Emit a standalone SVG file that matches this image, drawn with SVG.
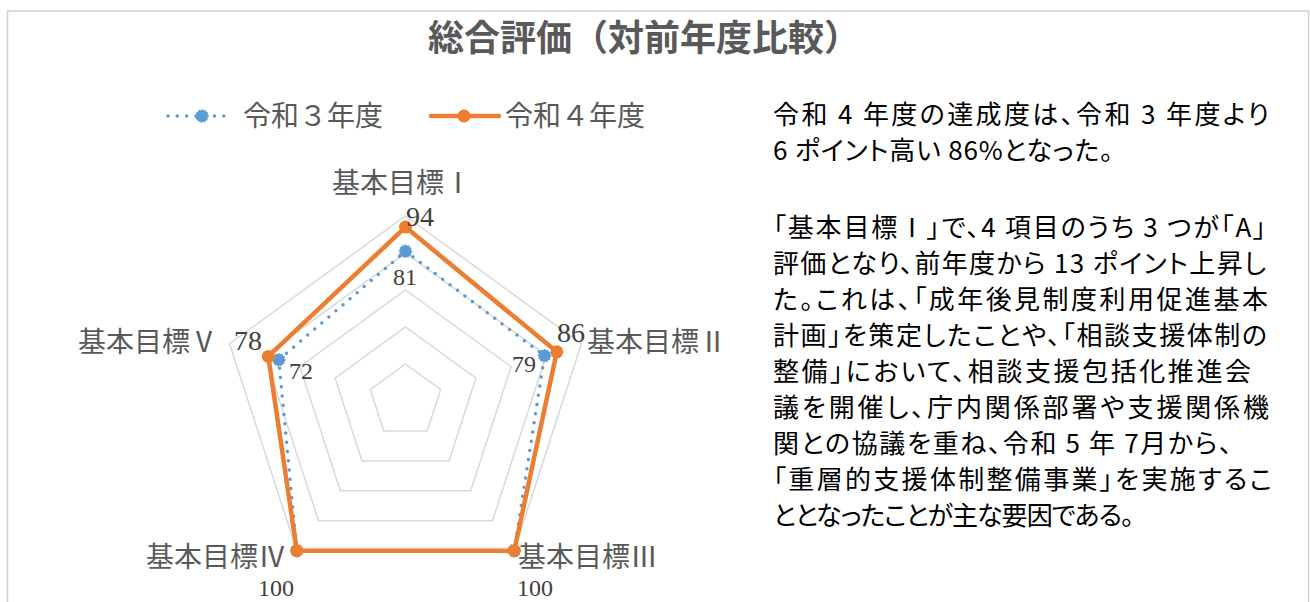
<svg xmlns="http://www.w3.org/2000/svg" width="1310" height="602" viewBox="0 0 1310 602">
  <style>
    .title{font-family:"Noto Sans CJK JP","Noto Sans",sans-serif;font-size:36px;font-weight:bold;fill:#595959}
    .leg{font-family:"Noto Sans CJK JP","Noto Sans",sans-serif;font-size:28px;fill:#595959}
    .axis{font-family:"Noto Sans CJK JP","Noto Sans",sans-serif;font-size:28px;fill:#595959}
    .dl{font-family:"Liberation Serif","DejaVu Serif",serif;font-size:28px;fill:#404040}
    .dlb{font-family:"Liberation Serif","DejaVu Serif",serif;font-size:24px;fill:#404040}
    .dls{font-family:"Liberation Serif","DejaVu Serif",serif;font-size:24px;fill:#404040}
    .body{font-family:"Noto Sans CJK JP","Noto Sans",sans-serif;font-size:26px;fill:#000;font-feature-settings:"palt"}
    .grid{fill:none;stroke:#d9d9d9;stroke-width:1.5}
    .r3{fill:none;stroke:#5b9bd5;stroke-width:3.5;stroke-linecap:round;stroke-dasharray:0 9.3}
    .r4{fill:none;stroke:#ed7d31;stroke-width:4.5;stroke-linejoin:round;stroke-linecap:round}
    .m3{fill:#5b9bd5;stroke:#5b9bd5;stroke-width:1.5;stroke-dasharray:1.5 1.5}
    .m4{fill:#ed7d31}
  </style>
  <rect x="7.5" y="11" width="1301" height="620" fill="#ffffff" stroke="#d0d0d0" stroke-width="1.5"/>
  <g id="title">
    <text class="title" x="644" y="51" text-anchor="middle">総合評価（対前年度比較）</text>
  </g>
  <g id="legend">
    <line class="r3" x1="168" y1="116" x2="232" y2="116"/>
    <circle class="m3" cx="202" cy="116" r="6"/>
    <text class="leg" x="243" y="126">令和３年度</text>
    <line class="r4" x1="431" y1="116" x2="499" y2="116"/>
    <circle class="m4" cx="464" cy="116" r="6.5"/>
    <text class="leg" x="505" y="126">令和４年度</text>
  </g>
  <g id="grid">
    <polygon class="grid" points="405.5,216 581.4,343.8 514.2,550.7 296.8,550.7 229.6,343.8"/>
    <polygon class="grid" points="405.5,253 546.3,355.3 492.5,520.7 318.5,520.7 264.7,355.3"/>
    <polygon class="grid" points="405.5,290 511.1,366.7 470.7,490.8 340.3,490.8 299.9,366.7"/>
    <polygon class="grid" points="405.5,327 475.9,378.1 449.0,460.9 362.0,460.9 335.1,378.1"/>
    <polygon class="grid" points="405.5,364 440.7,389.6 427.2,430.9 383.8,430.9 370.3,389.6"/>
  </g>
  <g id="series-r3">
    <polygon class="r3" points="405.5,251.2 544.5,355.8 514.2,550.7 296.8,550.7 278.8,359.8"/>
    <circle class="m3" cx="405.5" cy="251.2" r="6"/>
    <circle class="m3" cx="544.5" cy="355.8" r="6"/>
    <circle class="m3" cx="514.2" cy="550.7" r="6"/>
    <circle class="m3" cx="296.8" cy="550.7" r="6"/>
    <circle class="m3" cx="278.8" cy="359.8" r="6"/>
  </g>
  <g id="series-r4">
    <polygon class="r4" points="405.5,227.1 556.8,351.8 514.2,550.7 296.8,550.7 268.3,356.4"/>
    <circle class="m4" cx="405.5" cy="227.1" r="6.5"/>
    <circle class="m4" cx="556.8" cy="351.8" r="6.5"/>
    <circle class="m4" cx="514.2" cy="550.7" r="6.5"/>
    <circle class="m4" cx="296.8" cy="550.7" r="6.5"/>
    <circle class="m4" cx="268.3" cy="356.4" r="6.5"/>
  </g>
  <g id="axis-labels">
    <text class="axis" x="332" y="193">基本目標Ⅰ</text>
    <text class="axis" x="587" y="352">基本目標Ⅱ</text>
    <text class="axis" x="518" y="567">基本目標Ⅲ</text>
    <text class="axis" x="146" y="567">基本目標Ⅳ</text>
    <text class="axis" x="78" y="352">基本目標Ⅴ</text>
  </g>
  <g id="data-labels">
    <text class="dl" x="406" y="226">94</text>
    <text class="dl" x="557" y="342">86</text>
    <text class="dlb" x="517" y="596">100</text>
    <text class="dlb" x="294" y="596" text-anchor="end">100</text>
    <text class="dl" x="262" y="350" text-anchor="end">78</text>
    <text class="dls" x="405" y="285" text-anchor="middle">81</text>
    <text class="dls" x="536" y="372" text-anchor="end">79</text>
    <text class="dls" x="289" y="379">72</text>
  </g>
  <g id="comment">
    <text class="body" x="773" y="124" textLength="496" lengthAdjust="spacing">令和 4 年度の達成度は、令和 3 年度より</text>
    <text class="body" x="773" y="160" textLength="340" lengthAdjust="spacing">6 ポイント高い 86%となった。</text>
    <text class="body" x="773" y="237" textLength="493" lengthAdjust="spacing">「基本目標Ⅰ」で、4 項目のうち 3 つが「A」</text>
    <text class="body" x="773" y="273" textLength="493" lengthAdjust="spacing">評価となり、前年度から 13 ポイント上昇し</text>
    <text class="body" x="773" y="309" textLength="495" lengthAdjust="spacing">た。これは、「成年後見制度利用促進基本</text>
    <text class="body" x="773" y="345" textLength="494" lengthAdjust="spacing">計画」を策定したことや、「相談支援体制の</text>
    <text class="body" x="773" y="381" textLength="478" lengthAdjust="spacing">整備」において、相談支援包括化推進会</text>
    <text class="body" x="773" y="417" textLength="496" lengthAdjust="spacing">議を開催し、庁内関係部署や支援関係機</text>
    <text class="body" x="773" y="453" textLength="459" lengthAdjust="spacing">関との協議を重ね、令和 5 年 7月から、</text>
    <text class="body" x="773" y="489" textLength="499" lengthAdjust="spacing">「重層的支援体制整備事業」を実施するこ</text>
    <text class="body" x="773" y="525" textLength="361" lengthAdjust="spacing">ととなったことが主な要因である。</text>
  </g>
</svg>
